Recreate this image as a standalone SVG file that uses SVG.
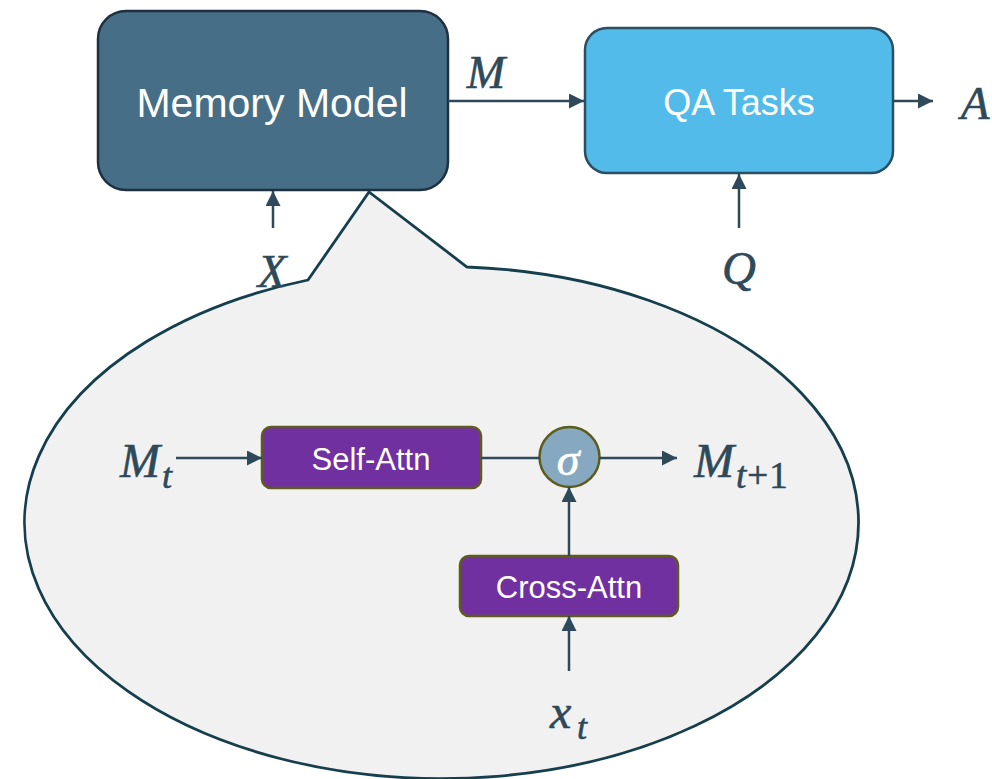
<svg xmlns="http://www.w3.org/2000/svg" width="992" height="779" viewBox="0 0 992 779">
<defs>
<style>
.conn{stroke:#2e4a5a;stroke-width:2.5;fill:none}
.math{font-family:"Liberation Serif","Times New Roman",serif;font-style:italic;fill:#2e4a5a;stroke:#2e4a5a;stroke-width:0.6}
.lbl{font-family:"Liberation Sans",Arial,sans-serif;fill:#ffffff;text-anchor:middle}
.attn{fill:#7030a0;stroke:#5c5c1c;stroke-width:2.5}
</style>
<marker id="ah" markerUnits="userSpaceOnUse" markerWidth="16" markerHeight="16" refX="15" refY="7.5" orient="auto">
<path d="M0,0 L15,7.5 L0,15 z" fill="#2e4a5a"/>
</marker>
</defs>
<rect width="992" height="779" fill="#ffffff"/>

<g id="callout">
<path d="M308,280 L369,192 L467,267 A417,256 0 1 1 308,280 Z" fill="#f1f1f1" stroke="#163f4d" stroke-width="2.8" stroke-linejoin="miter"/>
</g>

<g id="memory-model">
<rect x="98" y="11" width="350" height="179" rx="28" fill="#476e87" stroke="#1f3140" stroke-width="2.5"/>
<text class="lbl" x="272" y="117" font-size="41">Memory Model</text>
</g>

<g id="qa-tasks">
<rect x="585" y="28" width="308" height="145" rx="22" fill="#52bbea" stroke="#2a4e62" stroke-width="2.5"/>
<text class="lbl" x="739" y="115" font-size="36">QA Tasks</text>
</g>

<g id="self-attn">
<rect class="attn" x="262" y="427" width="219" height="61" rx="9"/>
<text class="lbl" x="371" y="470" font-size="31">Self-Attn</text>
</g>

<g id="sigma">
<circle cx="569.5" cy="457" r="30" fill="#86a8c0" stroke="#5c5c1c" stroke-width="2.5"/>
<text x="568" y="475" font-size="46" text-anchor="middle" font-family="Liberation Serif, serif" font-style="italic" fill="#ffffff" stroke="#ffffff" stroke-width="0.6">σ</text>
</g>

<g id="cross-attn">
<rect class="attn" x="460" y="556" width="218" height="60" rx="9"/>
<text class="lbl" x="569" y="598" font-size="31">Cross-Attn</text>
</g>

<g id="labels">
<text class="math" x="486" y="88" font-size="46" text-anchor="middle">M</text>
<text class="math" x="975" y="119" font-size="47" text-anchor="middle">A</text>
<text class="math" x="272" y="287" font-size="47" text-anchor="middle">X</text>
<text class="math" x="739" y="284" font-size="47" text-anchor="middle">Q</text>
<text class="math" x="120" y="477" font-size="48">M</text>
<text class="math" x="162" y="488" font-size="36">t</text>
<text class="math" x="694" y="477" font-size="48">M</text>
<text class="math" x="736" y="488" font-size="37" letter-spacing="1">t<tspan font-style="normal">+1</tspan></text>
<text class="math" x="550" y="728" font-size="48">x</text>
<text class="math" x="577" y="739" font-size="36">t</text>
</g>

<g id="connectors">
<line class="conn" x1="448" y1="101" x2="584" y2="101" marker-end="url(#ah)"/>
<line class="conn" x1="893" y1="101" x2="933" y2="101" marker-end="url(#ah)"/>
<line class="conn" x1="273" y1="228" x2="273" y2="191" marker-end="url(#ah)"/>
<line class="conn" x1="739" y1="228" x2="739" y2="174" marker-end="url(#ah)"/>
<line class="conn" x1="176" y1="458" x2="262" y2="458" marker-end="url(#ah)"/>
<line class="conn" x1="481" y1="458" x2="539.5" y2="458"/>
<line class="conn" x1="599.5" y1="458" x2="677" y2="458" marker-end="url(#ah)"/>
<line class="conn" x1="569" y1="556" x2="569" y2="487" marker-end="url(#ah)"/>
<line class="conn" x1="569" y1="671" x2="569" y2="616" marker-end="url(#ah)"/>
</g>
</svg>
